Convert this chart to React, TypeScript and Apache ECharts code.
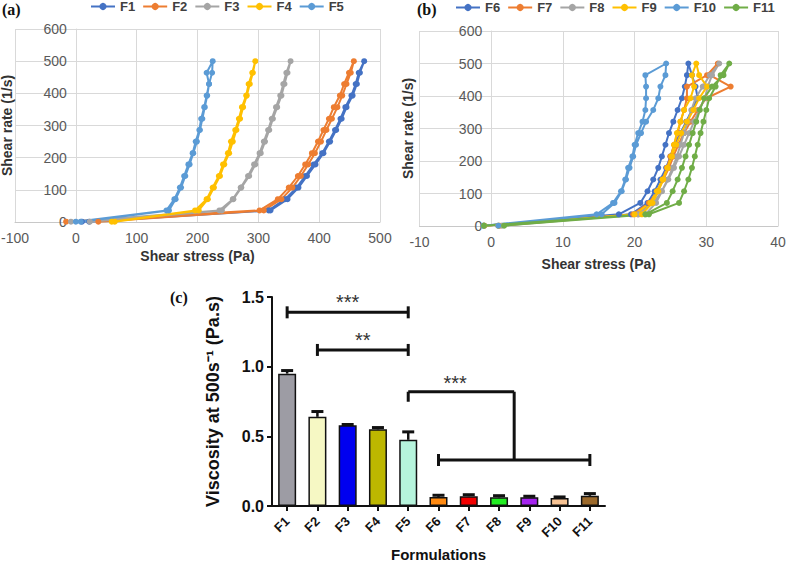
import React, { useEffect, useRef } from "react";
import * as echarts from "echarts";

// ---------- data ----------
const RATE_STEPS = [1, 36, 71, 107, 143, 179, 214, 250, 286, 321, 357, 393, 429, 464, 500];
// ramp up then ramp down
const RATE_PATH = [...RATE_STEPS, ...RATE_STEPS.slice(0, -1).reverse()];

const NAMES_A = ["F1", "F2", "F3", "F4", "F5"];
const COLORS_A = ["#4472C4", "#ED7D31", "#A5A5A5", "#FFC000", "#5B9BD5"];
const F1_STRESS = [10, 317, 344, 363, 377, 391, 405, 416, 426, 435, 443, 453, 460, 465, 474,
  467, 462, 455, 445, 437, 428, 418, 407, 394, 380, 366, 348, 320, 22];
const F2_STRESS = [-16, 302, 332, 350, 365, 377, 388, 398, 407, 416, 424, 434, 441, 449, 457,
  452, 445, 438, 430, 421, 412, 403, 393, 382, 370, 356, 338, 309, 37];
const F3_STRESS = [-8, 236, 258, 271, 283, 293, 302, 309, 316, 322, 329, 336, 341, 346, 353,
  348, 343, 338, 331, 324, 318, 311, 304, 295, 285, 272, 259, 240, 23];
const F4_STRESS = [59, 196, 215, 225, 235, 242, 250, 255, 262, 268, 273, 280, 284, 290, 295,
  291, 286, 281, 275, 270, 264, 258, 252, 244, 237, 227, 217, 202, 64];
const F5_STRESS = [0, 149, 162, 171, 178, 185, 192, 197, 203, 206, 211, 215, 219, 215, 225,
  224, 219, 216, 212, 208, 204, 199, 193, 187, 180, 173, 164, 153, 8];
const STRESS_A = [F1_STRESS, F2_STRESS, F3_STRESS, F4_STRESS, F5_STRESS];

const NAMES_B = ["F6", "F7", "F8", "F9", "F10", "F11"];
const COLORS_B = ["#4472C4", "#ED7D31", "#A5A5A5", "#FFC000", "#5B9BD5", "#70AD47"];
const F6_STRESS = [-1, 17.8, 20.8, 21.8, 22.6, 23.3, 23.8, 24.3, 24.8, 25.4, 26.0, 26.6, 27.0, 27.3, 27.5,
  28.0, 28.5, 28.8, 28.0, 27.2, 26.4, 25.6, 25.0, 24.4, 23.6, 22.8, 21.8, 19.5, 1.0];
const F7_STRESS = [-1, 20.5, 22.3, 23.2, 23.9, 24.5, 25.0, 25.5, 26.0, 26.4, 26.9, 27.3, 27.3, 30.1, 31.6,
  30.5, 33.4, 30.0, 28.8, 27.8, 26.9, 26.1, 25.4, 24.8, 24.0, 23.2, 22.0, 19.8, 1.2];
const F8_STRESS = [-1, 21.5, 23.0, 23.8, 24.6, 25.3, 25.9, 26.4, 26.9, 27.4, 27.9, 28.5, 29.5, 30.5, 31.8,
  30.8, 30.2, 29.8, 29.0, 28.3, 27.6, 26.9, 26.2, 25.5, 24.7, 23.8, 22.6, 20.5, 1.5];
const F9_STRESS = [-1, 21.0, 22.5, 23.3, 24.0, 24.6, 25.1, 25.5, 25.9, 26.4, 26.9, 27.8, 28.3, 28.0, 28.6,
  29.0, 30.1, 29.0, 28.2, 27.3, 26.5, 25.8, 25.2, 24.6, 23.9, 23.1, 22.2, 20.0, 1.0];
const F10_STRESS = [-1.1, 14.7, 17.0, 18.1, 18.7, 19.1, 19.7, 20.0, 20.5, 21.1, 21.5, 21.6, 21.6, 21.5, 24.4,
  24.3, 23.6, 23.3, 22.6, 21.6, 20.9, 20.2, 19.8, 19.3, 18.8, 18.2, 17.2, 15.4, 1.0];
const F11_STRESS = [-1, 21.5, 24.5, 25.3, 26.0, 26.6, 27.1, 27.6, 28.1, 28.6, 29.1, 29.7, 30.8, 32.4, 33.2,
  32.0, 31.3, 30.4, 30.0, 29.6, 29.2, 28.8, 28.4, 28.0, 27.5, 26.9, 26.2, 22.0, 1.8];
const STRESS_B = [F6_STRESS, F7_STRESS, F8_STRESS, F9_STRESS, F10_STRESS, F11_STRESS];

const CATEGORIES_C = ["F1", "F2", "F3", "F4", "F5", "F6", "F7", "F8", "F9", "F10", "F11"];
const VISC_MEAN = [0.95, 0.64, 0.58, 0.55, 0.475, 0.065, 0.07, 0.062, 0.063, 0.057, 0.073];
const VISC_ERR_TOP = [0.972, 0.678, 0.585, 0.563, 0.532, 0.077, 0.081, 0.074, 0.07, 0.065, 0.089];
const BAR_COLORS = ["#9d9ca4", "#f6f8c4", "#0000f0", "#bdb700", "#b6f4dc", "#ff8a12",
  "#f20000", "#22ee22", "#a524f0", "#f7c394", "#9c6a2c"];

// significance brackets (category index, value)
const SIG_FROM = [0, 1];
const SIG_TO = [4, 4];
const SIG_Y = [1.39, 1.12];
const SIG_LABEL = ["***", "**"];
const GROUP_REF = 4;
const GROUP_FROM = 5;
const GROUP_TO = 10;
const GROUP_Y_TOP = 0.82;
const GROUP_Y_BOTTOM = 0.33;
const GROUP_LABEL = "***";

const SANS = "'Liberation Sans', Arial, sans-serif";
const SERIF = "'Liberation Serif', 'Times New Roman', serif";

// grid boxes (pixels)
const GRID_A = { left: 15, top: 29, width: 365, height: 193, outerBoundsMode: "none", containLabel: false };
const GRID_B = { left: 419.5, top: 31, width: 358.5, height: 195, outerBoundsMode: "none", containLabel: false };
const GRID_C = { left: 272, top: 297, width: 333, height: 209, outerBoundsMode: "none", containLabel: false };

export default function App() {
  const ref = useRef<HTMLDivElement>(null);

  useEffect(() => {
    if (!ref.current) return;
    const chart = echarts.init(ref.current, undefined, { renderer: "svg" });

    const lineSeries = (name: string, xs: number[], color: string, idx: number) => ({
      type: "line",
      name,
      xAxisIndex: idx,
      yAxisIndex: idx,
      data: xs.map((x, i) => [x, RATE_PATH[i]]),
      symbol: "circle",
      symbolSize: 6,
      showSymbol: true,
      lineStyle: { width: 2, color },
      itemStyle: { color },
      emphasis: { disabled: true },
      silent: true,
    });

    const excelX = (min: number, max: number, interval: number, gridIndex: number, nameGap: number) => ({
      type: "value",
      gridIndex,
      min,
      max,
      interval,
      name: "Shear stress (Pa)",
      nameLocation: "middle",
      nameGap,
      nameTextStyle: { fontFamily: SANS, fontWeight: "bold", fontSize: 14, color: "#333" },
      axisLine: { show: true, onZero: false, lineStyle: { color: "#c8c8c8", width: 1 } },
      axisTick: { show: false },
      axisLabel: { fontFamily: SANS, fontSize: 14, color: "#595959", margin: 9 },
      splitLine: { show: true, lineStyle: { color: "#d9d9d9", width: 1 } },
    });

    // y axis drawn where x = 0 (Excel style): shift it into the grid by the x=0 position
    const excelY = (gridIndex: number, nameGap: number, xMin: number, xMax: number, gridWidth: number) => ({
      type: "value",
      gridIndex,
      min: 0,
      max: 600,
      interval: 100,
      offset: -((0 - xMin) / (xMax - xMin)) * gridWidth,
      name: "Shear rate (1/s)",
      nameLocation: "middle",
      nameGap,
      nameRotate: 90,
      nameTextStyle: { fontFamily: SANS, fontWeight: "bold", fontSize: 14, color: "#333" },
      axisLine: { show: true, onZero: false, lineStyle: { color: "#d9d9d9", width: 1 } },
      axisTick: { show: false },
      axisLabel: { fontFamily: SANS, fontSize: 14, color: "#595959", margin: 9 },
      splitLine: { show: true, lineStyle: { color: "#d9d9d9", width: 1 } },
    });

    const xAtIndex = (api: any, f: number, y: number) => {
      const lo = Math.floor(f);
      const hi = Math.ceil(f);
      const a = api.coord([lo, y]);
      const b = api.coord([hi, y]);
      const t = f - lo;
      return a[0] + (b[0] - a[0]) * t;
    };

    const stroke = { stroke: "#111", lineWidth: 3 };
    const starStyle = (text: string) => ({
      text,
      font: `normal 20px ${SANS}`,
      fill: "#333",
      align: "center",
      verticalAlign: "middle",
      textAlign: "center",
      textVerticalAlign: "middle",
    });

    const option: any = {
      animation: false,
      backgroundColor: "#fff",
      grid: [GRID_A, GRID_B, GRID_C],
      legend: [
        {
          data: NAMES_A,
          left: 90,
          top: 0,
          padding: 0,
          itemWidth: 24,
          itemHeight: 9,
          itemGap: 7,
          textStyle: { fontFamily: SANS, fontWeight: "bold", fontSize: 13, color: "#404040" },
        },
        {
          data: NAMES_B,
          left: 455,
          top: 1,
          padding: 0,
          itemWidth: 24,
          itemHeight: 9,
          itemGap: 7,
          textStyle: { fontFamily: SANS, fontWeight: "bold", fontSize: 13, color: "#404040" },
        },
      ],
      xAxis: [
        excelX(-100, 500, 100, 0, 27),
        excelX(-10, 40, 10, 1, 31),
        {
          type: "category",
          gridIndex: 2,
          data: CATEGORIES_C,
          name: "Formulations",
          nameLocation: "middle",
          nameGap: 41,
          nameTextStyle: { fontFamily: SANS, fontWeight: "bold", fontSize: 15, lineHeight: 15, color: "#111" },
          axisLine: { show: true, lineStyle: { color: "#111", width: 2 } },
          axisTick: { show: true, alignWithLabel: true, length: 5, lineStyle: { color: "#111", width: 2 } },
          axisLabel: {
            interval: 0,
            rotate: 45,
            margin: 13,
            fontFamily: SANS,
            fontWeight: "bold",
            fontSize: 13,
            color: "#111",
          },
          splitLine: { show: false },
        },
      ],
      yAxis: [
        excelY(0, 62, -100, 500, GRID_A.width),
        excelY(1, 76, -10, 40, GRID_B.width),
        {
          type: "value",
          gridIndex: 2,
          min: 0,
          max: 1.5,
          interval: 0.5,
          name: "Viscosity at 500s⁻¹ (Pa.s)",
          nameLocation: "middle",
          nameGap: 50,
          nameRotate: 90,
          nameTextStyle: { fontFamily: SANS, fontWeight: "bold", fontSize: 18, color: "#111" },
          axisLine: { show: true, lineStyle: { color: "#111", width: 2 } },
          axisTick: { show: true, length: 5, lineStyle: { color: "#111", width: 2 } },
          axisLabel: {
            fontFamily: SANS,
            fontWeight: "bold",
            fontSize: 16,
            color: "#111",
            margin: 8,
            formatter: (v: number) => v.toFixed(1),
          },
          splitLine: { show: false },
        },
      ],
      series: [
        ...NAMES_A.map((n, i) => lineSeries(n, STRESS_A[i], COLORS_A[i], 0)),
        ...NAMES_B.map((n, i) => lineSeries(n, STRESS_B[i], COLORS_B[i], 1)),
        {
          type: "bar",
          xAxisIndex: 2,
          yAxisIndex: 2,
          barWidth: 18,
          silent: true,
          data: VISC_MEAN.map((v, i) => ({
            value: v,
            itemStyle: { color: BAR_COLORS[i], borderColor: "#111", borderWidth: 1.5 },
          })),
        },
        {
          type: "custom",
          xAxisIndex: 2,
          yAxisIndex: 2,
          silent: true,
          z: 5,
          encode: { x: 0, y: [1, 2] },
          data: VISC_MEAN.map((v, i) => [i, v, VISC_ERR_TOP[i]]),
          renderItem: (params: any, api: any) => {
            const i = api.value(0);
            const p0 = api.coord([i, api.value(1)]);
            const p1 = api.coord([i, api.value(2)]);
            return {
              type: "group",
              children: [
                { type: "line", shape: { x1: p0[0], y1: p0[1], x2: p1[0], y2: p1[1] }, style: { stroke: "#111", lineWidth: 2.5 } },
                { type: "line", shape: { x1: p1[0] - 6, y1: p1[1], x2: p1[0] + 6, y2: p1[1] }, style: { stroke: "#111", lineWidth: 3 } },
              ],
            };
          },
        },
        {
          type: "custom",
          xAxisIndex: 2,
          yAxisIndex: 2,
          silent: true,
          clip: false,
          z: 6,
          data: [[0, SIG_Y[0]], [1, SIG_Y[1]], [2, GROUP_Y_TOP]],
          renderItem: (params: any, api: any) => {
            const k = params.dataIndex;
            if (k < 2) {
              const y = api.coord([0, SIG_Y[k]])[1];
              const x1 = api.coord([SIG_FROM[k], SIG_Y[k]])[0];
              const x2 = api.coord([SIG_TO[k], SIG_Y[k]])[0];
              return {
                type: "group",
                children: [
                  { type: "line", shape: { x1, y1: y, x2, y2: y }, style: stroke },
                  { type: "line", shape: { x1, y1: y - 6, x2: x1, y2: y + 6 }, style: stroke },
                  { type: "line", shape: { x1: x2, y1: y - 6, x2, y2: y + 6 }, style: stroke },
                  { type: "text", x: (x1 + x2) / 2, y: y - 10, style: starStyle(SIG_LABEL[k]) },
                ],
              };
            }
            const yTop = api.coord([0, GROUP_Y_TOP])[1];
            const yBot = api.coord([0, GROUP_Y_BOTTOM])[1];
            const xRef = api.coord([GROUP_REF, GROUP_Y_TOP])[0];
            const xMid = xAtIndex(api, (GROUP_FROM + GROUP_TO) / 2, GROUP_Y_TOP);
            const xa = api.coord([GROUP_FROM, GROUP_Y_BOTTOM])[0];
            const xb = api.coord([GROUP_TO, GROUP_Y_BOTTOM])[0];
            return {
              type: "group",
              children: [
                { type: "line", shape: { x1: xRef, y1: yTop, x2: xMid, y2: yTop }, style: stroke },
                { type: "line", shape: { x1: xRef, y1: yTop, x2: xRef, y2: yTop + 10 }, style: stroke },
                { type: "line", shape: { x1: xMid, y1: yTop, x2: xMid, y2: yBot }, style: stroke },
                { type: "line", shape: { x1: xa, y1: yBot, x2: xb, y2: yBot }, style: stroke },
                { type: "line", shape: { x1: xa, y1: yBot - 6, x2: xa, y2: yBot + 6 }, style: stroke },
                { type: "line", shape: { x1: xb, y1: yBot - 6, x2: xb, y2: yBot + 6 }, style: stroke },
                { type: "text", x: (xRef + xMid) / 2 - 6, y: yTop - 9, style: starStyle(GROUP_LABEL) },
              ],
            };
          },
        },
      ],
      graphic: [
        { type: "text", left: 2, top: 1, style: { text: "(a)", font: `bold 16px ${SERIF}`, fill: "#111" } },
        { type: "text", left: 417, top: 1, style: { text: "(b)", font: `bold 16px ${SERIF}`, fill: "#111" } },
        { type: "text", left: 170, top: 289, style: { text: "(c)", font: `bold 16px ${SERIF}`, fill: "#111" } },
      ],
    };

    chart.setOption(option);
    return () => chart.dispose();
  }, []);

  return (
    <div
      ref={ref}
      style={{ position: "fixed", left: 0, top: 0, width: 787, height: 564, background: "#fff" }}
    />
  );
}
